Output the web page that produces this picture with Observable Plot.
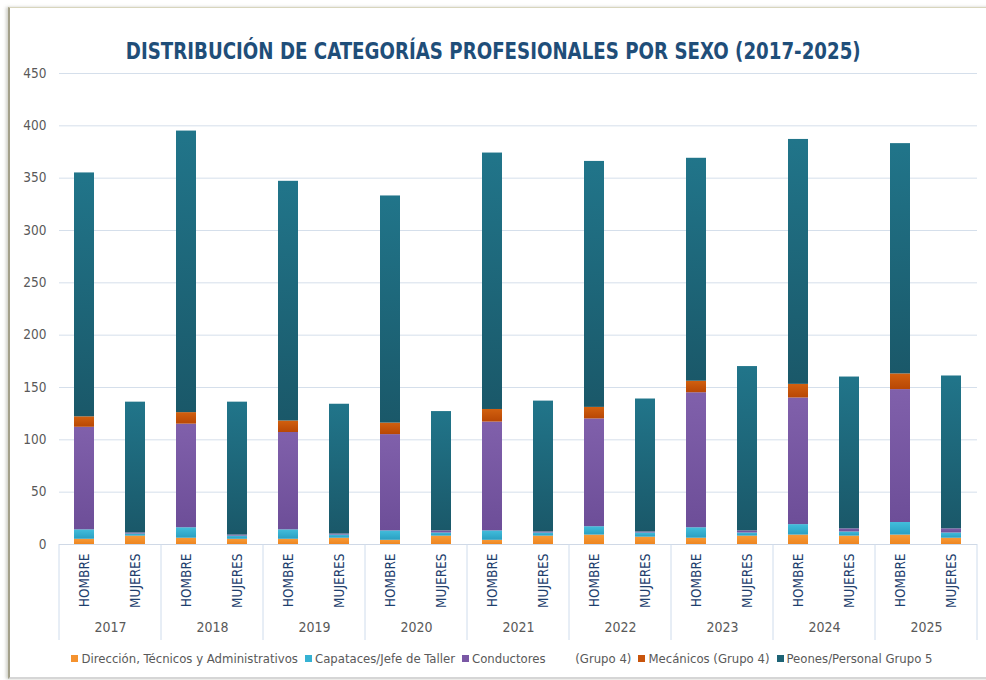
<!DOCTYPE html>
<html>
<head>
<meta charset="utf-8">
<script src="https://cdn.jsdelivr.net/npm/d3@7"></script>
<script src="https://cdn.jsdelivr.net/npm/@observablehq/plot@0.6"></script>
<style>
  html, body { margin: 0; padding: 0; background: #fff; }
  body { width: 986px; height: 680px; position: relative; overflow: hidden;
         font-family: "Liberation Sans Narrow", "DejaVu Sans Condensed", "Roboto", sans-serif; }
  #frame { position: absolute; left: 8px; top: 7px; width: 990px; height: 669px;
           border-left: 2px solid #a3a08a; border-top: 1px solid #d8d5bd; border-bottom: 2px solid #d6d6d6;
           box-shadow: -2px 0 3px rgba(120,120,100,0.35); }
  #title { position: absolute; left: 0; width: 986px; top: 38px; text-align: center;
           font-weight: bold; font-size: 23px; color: #1f4e79;
           transform: scaleX(0.88); transform-origin: 495px 0; }
  #chart { position: absolute; left: 0; top: 62px; }
  #legend { position: absolute; left: 0; width: 986px; top: 651px; display: flex; justify-content: center;
            font-size: 13px; color: #595959; gap: 7px; padding-left: 18px; box-sizing: border-box; }
  #legend .item { display: flex; align-items: center; white-space: pre; }
  #legend .sw { width: 7px; height: 7px; margin-right: 3px; }
</style>
</head>
<body>
<div id="frame"></div>
<div id="title">DISTRIBUCIÓN DE CATEGORÍAS PROFESIONALES POR SEXO (2017-2025)</div>
<div id="chart"></div>
<div id="legend"></div>
<script>
const years = ["2017","2018","2019","2020","2021","2022","2023","2024","2025"];
const sexes = ["HOMBRE","MUJERES"];
const categories = [
  "Dirección, Técnicos y Administrativos",
  "Capataces/Jefe de Taller",
  "Conductores        (Grupo 4)",
  "Mecánicos (Grupo 4)",
  "Peones/Personal Grupo 5"
];
const colors = ["#f5922e", "#36b2d3", "#7a58a5", "#c8540c", "#1d6375"];

// HOMBRE values per year
const direccionH  = [5, 6, 5, 4, 4, 9, 6, 9, 9];
const capatacesH  = [9, 10, 9, 9, 9, 8, 10, 10, 12];
const conductoresH = [98, 99, 93, 92, 104, 103, 129, 121, 127];
const mecanicosH  = [10, 11, 11, 11, 12, 11, 11, 13, 15];
const peonesH     = [233, 269, 229, 217, 245, 235, 213, 234, 220];

// MUJERES values per year
const direccionM  = [8, 5, 6, 8, 8, 7, 8, 8, 6];
const capatacesM  = [2, 3, 3, 3, 3, 4, 3, 4, 5];
const conductoresM = [1, 1, 1, 2, 1, 1, 2, 3, 4];
const mecanicosM  = [0, 0, 0, 0, 0, 0, 0, 0, 0];
const peonesM     = [125, 127, 124, 114, 125, 127, 157, 145, 146];

const seriesH = [direccionH, capatacesH, conductoresH, mecanicosH, peonesH];
const seriesM = [direccionM, capatacesM, conductoresM, mecanicosM, peonesM];

const table = [];
years.forEach((yr, i) => {
  sexes.forEach(sx => {
    const src = sx === "HOMBRE" ? seriesH : seriesM;
    categories.forEach((c, k) => table.push({year: yr, sex: sx, cat: c, value: src[k][i]}));
  });
});

const yTicks = d3.range(0, 451, 50);
const gradIds = ["gDir", "gCap", "gCon", "gMec", "gPeo"];
const gradStops = [
  ["#f79a38", "#ee8620"],
  ["#42bddb", "#2a9fc2"],
  ["#8060ab", "#6d4e98"],
  ["#d2600f", "#b84704"],
  ["#21758a", "#1a5869"]
];

const chart = Plot.plot({
  width: 986,
  height: 583,
  marginTop: 11,
  marginLeft: 58,
  marginRight: 8,
  marginBottom: 101,
  style: {fontFamily: '"Liberation Sans Narrow", "DejaVu Sans Condensed", Roboto, sans-serif', background: "transparent"},
  fx: {domain: years, padding: 0, label: null},
  x: {domain: sexes, paddingInner: 0.6, paddingOuter: 0.3, label: null},
  y: {domain: [0, 450], label: null},
  color: {domain: categories, range: gradIds.map(id => `url(#${id})`)},
  marks: [
    Plot.gridY(yTicks, {stroke: "#d5dfeb", strokeOpacity: 1}),
    Plot.axisY(yTicks, {tickSize: 0, tickPadding: 13, fontSize: 13.5, color: "#595959", label: null}),
    Plot.axisX({tickSize: 0, tickRotate: -90, tickPadding: 9, fontSize: 13.5, color: "#1f3f6e", label: null}),
    Plot.axisFx({anchor: "bottom", tickSize: 0, tickPadding: 78, fontSize: 14, color: "#595959", label: null}),
    Plot.barY(table, {fx: "year", x: "sex", y: "value", fill: "cat"}),
    Plot.ruleY([0], {stroke: "#d0d9e6"})
  ]
});

const svg = d3.select(chart);
const defs = svg.insert("defs", ":first-child");
gradIds.forEach((id, k) => {
  const g = defs.append("linearGradient").attr("id", id).attr("x1", 0).attr("y1", 0).attr("x2", 0).attr("y2", 1);
  g.append("stop").attr("offset", "0%").attr("stop-color", gradStops[k][0]);
  g.append("stop").attr("offset", "100%").attr("stop-color", gradStops[k][1]);
});

// group separators below the baseline, from the library's fx scale
const fx = chart.scale("fx");
const ys = chart.scale("y");
const y0 = ys.apply(0);
const bounds = years.map(yr => fx.apply(yr));
bounds.push(fx.apply(years[years.length - 1]) + fx.bandwidth);
const sep = svg.append("g").attr("stroke", "#cfdcec").attr("stroke-width", 1);
bounds.forEach(b => sep.append("line").attr("x1", b).attr("x2", b).attr("y1", y0).attr("y2", y0 + 96));

document.getElementById("chart").appendChild(chart);

const legend = document.getElementById("legend");
categories.forEach((c, k) => {
  const item = document.createElement("div");
  item.className = "item";
  const sw = document.createElement("span");
  sw.className = "sw";
  sw.style.background = colors[k];
  item.appendChild(sw);
  item.appendChild(document.createTextNode(c));
  legend.appendChild(item);
});
</script>
</body>
</html>
